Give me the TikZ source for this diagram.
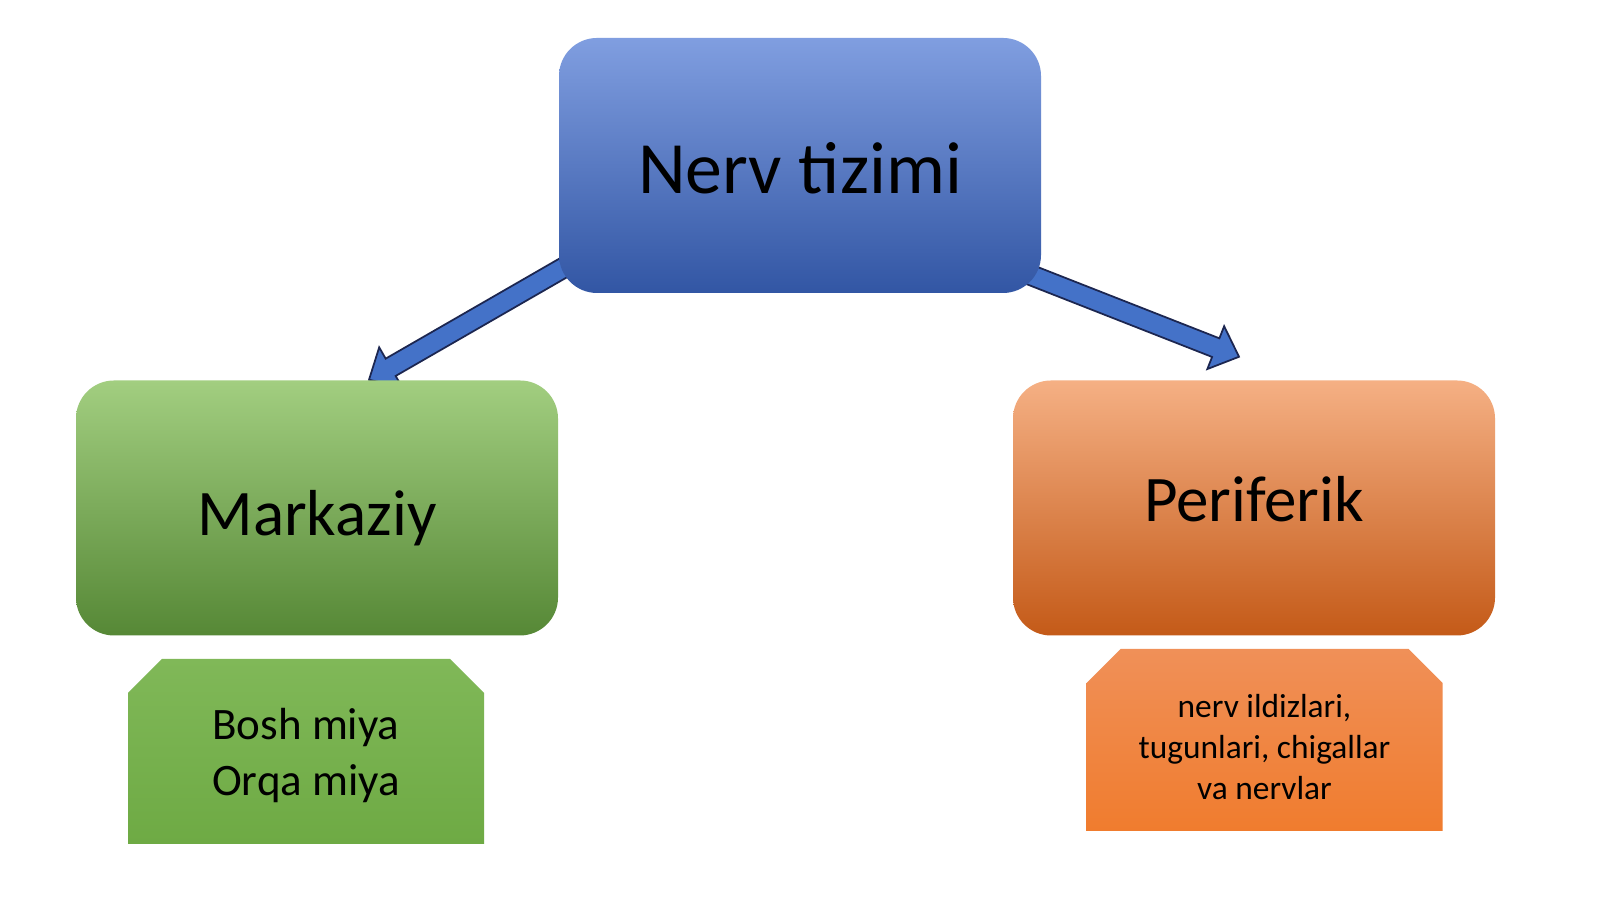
\documentclass[tikz,border=0pt]{standalone}
\usepackage{fontspec}
\setmainfont{Carlito}
\usetikzlibrary{calc,shapes.misc,backgrounds}

\definecolor{bluetop}{RGB}{128,158,224}
\definecolor{bluemid}{RGB}{76,116,204}
\definecolor{bluebot}{RGB}{50,86,164}
\definecolor{greentop}{RGB}{162,206,128}
\definecolor{greenmid}{RGB}{116,170,76}
\definecolor{greenbot}{RGB}{86,136,54}
\definecolor{orangetop}{RGB}{245,176,132}
\definecolor{orangemid}{RGB}{236,128,58}
\definecolor{orangebot}{RGB}{196,90,24}
\definecolor{subgreentop}{RGB}{128,184,88}
\definecolor{subgreenbot}{RGB}{110,170,68}
\definecolor{suborangetop}{RGB}{240,144,88}
\definecolor{suborangebot}{RGB}{240,124,46}
\definecolor{arrowfill}{RGB}{68,114,200}
\definecolor{arrowline}{RGB}{28,38,80}

\begin{document}
\begin{tikzpicture}[
    mainbox/.style ={rectangle, rounded corners=0.38cm, inner sep=0pt,
      minimum width=4.82cm, minimum height=2.55cm, text height=0.56cm, text depth=0cm},
    subbox/.style ={chamfered rectangle, chamfered rectangle corners={north west,north east},
      chamfered rectangle xsep=0.17cm, chamfered rectangle ysep=0.17cm, inner sep=0pt,
      minimum width=3.56cm, align=center},
    bigarrow/.style ={fill=arrowfill, draw=arrowline, line width=0.5pt, line join=miter}]
   \useasboundingbox (0,0) rectangle (16,8.99);
   \node[mainbox, top color=bluetop, middle color=bluemid, bottom color=bluebot,
     font=\fontsize{21pt}{25pt}\selectfont] (nerv) at (8.00,7.335) {Nerv tizimi};
   \node[mainbox, top color=greentop, middle color=greenmid, bottom color=greenbot,
     font=\fontsize{18.5pt}{22pt}\selectfont] (markaziy) at (3.17,3.91) {Markaziy};
   \node[mainbox, top color=orangetop, middle color=orangemid, bottom color=orangebot,
     font=\fontsize{18.5pt}{22pt}\selectfont, text height=0.28cm] (periferik) at (12.54,3.91) {Periferik};
   \node[subbox, minimum height=1.85cm, top color=subgreentop, bottom color=subgreenbot,
     font=\fontsize{12.8pt}{15.9pt}\selectfont, text height=0.96cm] (miya) at (3.06,1.475) {Bosh miya\\Orqa miya};
   \node[subbox, minimum height=1.82cm, top color=suborangetop, bottom color=suborangebot,
     font=\fontsize{9.5pt}{11.7pt}\selectfont, text height=1.19cm] (nervlar) at (12.645,1.59) {nerv ildizlari,\\tugunlari, chigallar\\va nervlar};
   \begin{scope}[on background layer]
     \fill[white] (0,0) rectangle (16,8.99);
     \coordinate (ls) at ($(nerv.south west)+(0.14,0.31)$);
     \coordinate (lt) at ($(markaziy.north)+(0.52,0)$);
     \coordinate (rs) at ($(nerv.south east)+(-0.17,0.21)$);
     \coordinate (rt) at ($(periferik.north)+(-0.15,0.23)$);
     \foreach \s/\t in {ls/lt, rs/rt}
       \draw[bigarrow] ($(\s)!0.1cm!90:(\t)$)
         -- ($($(\t)!0.25cm!(\s)$)!0.1cm!-90:(\s)$)
         -- ($($(\t)!0.25cm!(\s)$)!0.23cm!-90:(\s)$) -- (\t)
         -- ($($(\t)!0.25cm!(\s)$)!0.23cm!90:(\s)$)
         -- ($($(\t)!0.25cm!(\s)$)!0.1cm!90:(\s)$)
         -- ($(\s)!0.1cm!-90:(\t)$) -- cycle;
   \end{scope}
 \end{tikzpicture}
\end{document}
